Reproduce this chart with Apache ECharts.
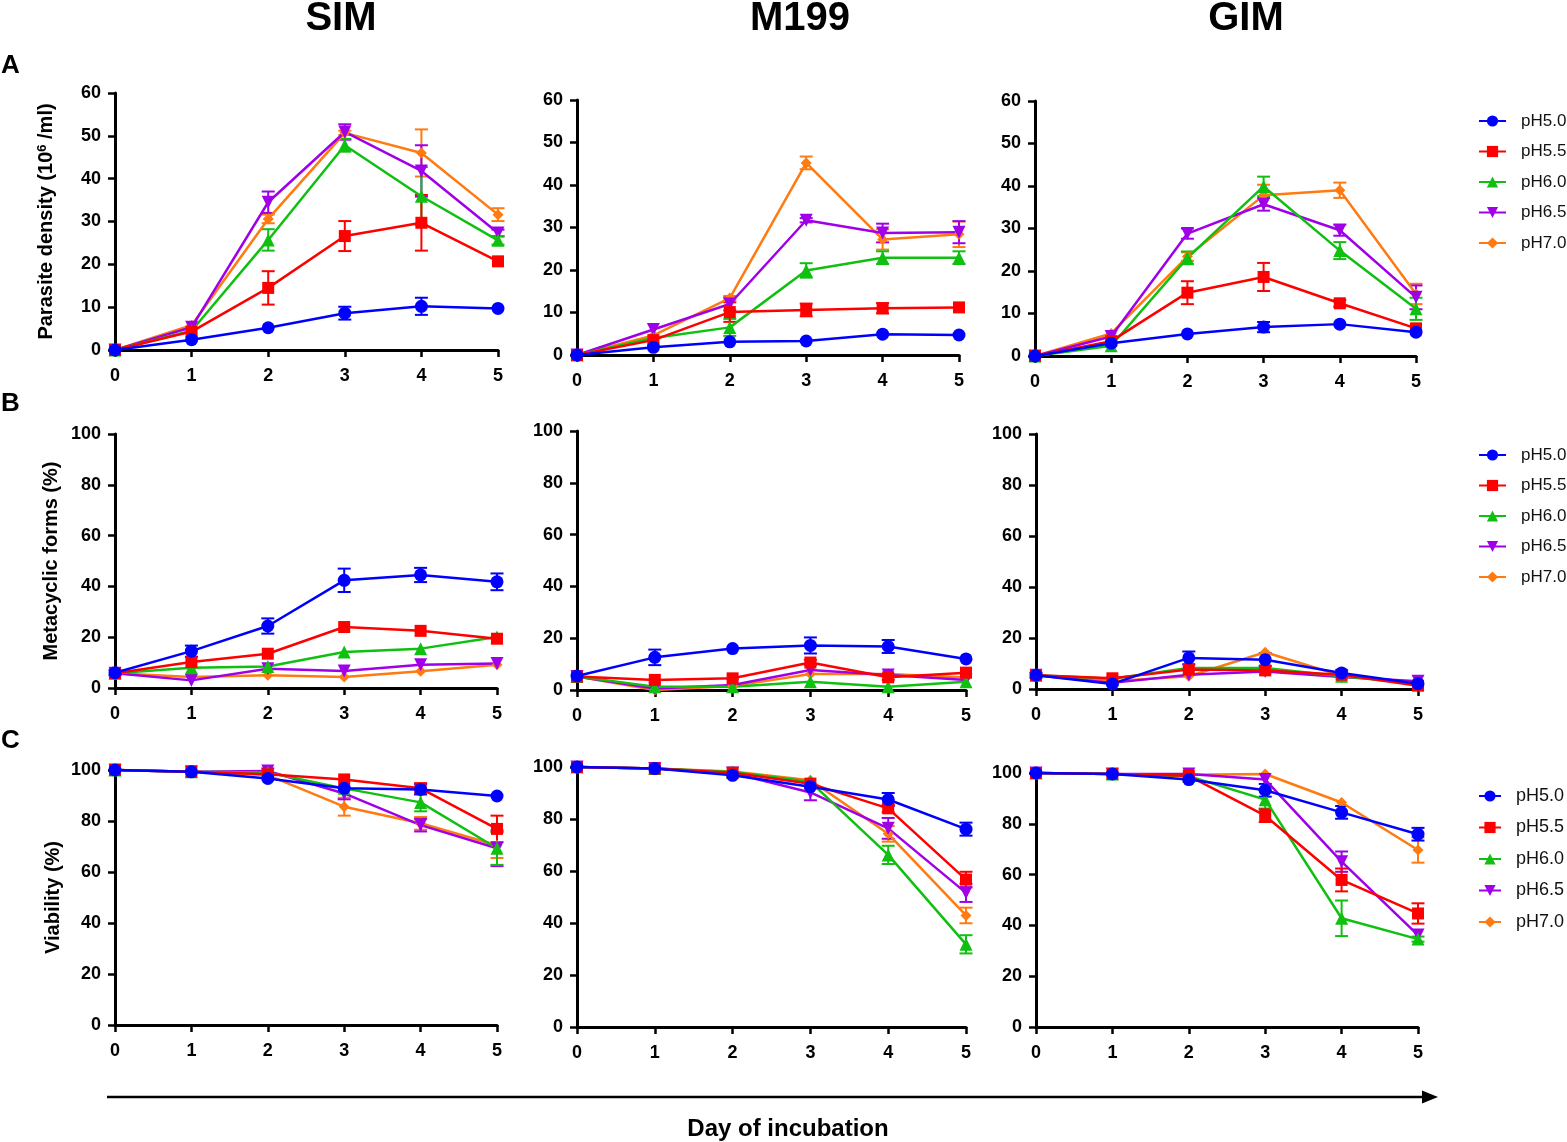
<!DOCTYPE html>
<html><head><meta charset="utf-8">
<script src="https://cdn.jsdelivr.net/npm/echarts@6/dist/echarts.min.js"></script>
<style>html,body{margin:0;padding:0;background:#fff}#c{width:1567px;height:1142px}</style>
</head><body><div id="c"></div>
<script>
// ---------- DATA ----------
const days = [0, 1, 2, 3, 4, 5];
const phLevels = ['pH5.0', 'pH5.5', 'pH6.0', 'pH6.5', 'pH7.0'];
const mediaNames = ['SIM', 'M199', 'GIM'];
const rowLetters = ['A', 'B', 'C'];
const densityTickMax = 60, densityTickStep = 10;
const percentTickMax = 100, percentTickStep = 20;

// Parasite density (10^6/ml), rows = pH5.0, pH5.5, pH6.0, pH6.5, pH7.0
const densitySIM = [
  [0, 2.4, 5.2, 8.6, 10.2, 9.7],
  [0, 4.3, 14.5, 26.6, 29.7, 20.7],
  [0, 4.5, 25.7, 47.8, 35.9, 25.6],
  [0, 5.3, 34.5, 50.9, 41.8, 27.3],
  [0, 5.8, 30.6, 50.7, 46.0, 31.6]
];
const densitySIM_sd = [
  [0, 0, 0, 1.5, 2.0, 0],
  [0, 0, 3.9, 3.5, 6.5, 0],
  [0, 0, 2.5, 1.5, 6.8, 1.0],
  [0, 0, 2.5, 1.8, 6.0, 0.8],
  [0, 0, 1.0, 0.5, 5.5, 1.5]
];
const densityM199 = [
  [0, 1.8, 3.1, 3.3, 4.9, 4.7],
  [0, 3.5, 10.1, 10.6, 11.0, 11.2],
  [0, 4.0, 6.5, 19.9, 22.9, 22.9],
  [0, 6.0, 12.0, 31.7, 28.7, 28.9],
  [0, 4.6, 13.4, 45.2, 27.2, 28.4]
];
const densityM199_sd = [
  [0, 0, 0, 0, 0, 0],
  [0, 0, 2.3, 1.5, 1.2, 0],
  [0, 0, 2.0, 1.7, 1.5, 1.5],
  [0, 0, 1.5, 0.5, 2.2, 2.6],
  [0, 0, 0.5, 1.5, 2.4, 3.0]
];
const densityGIM = [
  [0, 3.0, 5.2, 6.8, 7.5, 5.6],
  [0, 3.5, 14.9, 18.6, 12.4, 6.5],
  [0, 2.4, 23.1, 39.9, 24.8, 11.1],
  [0, 4.6, 28.8, 35.7, 29.6, 13.8],
  [0, 5.3, 23.4, 37.8, 39.0, 14.6]
];
const densityGIM_sd = [
  [0, 0, 0, 1.2, 0, 0],
  [0, 0, 2.7, 3.3, 0.8, 0],
  [0, 0, 1.5, 2.3, 2.0, 2.6],
  [0, 0, 1.2, 1.5, 1.3, 2.8],
  [0, 0, 1.0, 2.5, 1.8, 2.4]
];

// Metacyclic forms (%)
const metacyclicSIM = [
  [6.0, 14.5, 24.4, 42.4, 44.5, 41.8],
  [5.8, 10.2, 13.5, 24.0, 22.5, 19.4],
  [5.8, 8.0, 8.5, 14.2, 15.5, 20.1],
  [5.8, 3.0, 7.6, 6.7, 9.2, 9.6],
  [5.8, 4.3, 5.0, 4.3, 6.6, 9.2]
];
const metacyclicSIM_sd = [
  [1.0, 2.2, 3.0, 4.6, 2.8, 3.3],
  [0, 0, 0, 0, 0, 0],
  [0, 0, 0, 0, 0, 0],
  [0, 0, 0, 0, 0, 0],
  [0, 0, 0, 0, 0, 0]
];
const metacyclicM199 = [
  [5.4, 12.6, 16.0, 17.2, 16.8, 12.0],
  [5.2, 3.9, 4.5, 10.6, 4.9, 6.7],
  [5.2, 1.3, 1.3, 3.2, 1.3, 3.2],
  [5.2, 0.6, 1.9, 7.7, 5.8, 3.9],
  [5.2, 0.0, 1.5, 6.2, 6.2, 4.8]
];
const metacyclicM199_sd = [
  [0, 3.0, 0, 3.1, 2.5, 0],
  [0, 0, 0, 1.0, 1.0, 0],
  [0, 0, 0, 0, 0, 0],
  [0, 0, 0, 0, 0, 0],
  [0, 0, 0, 0, 0, 0]
];
const metacyclicGIM = [
  [5.4, 2.0, 12.2, 11.5, 6.3, 2.1],
  [5.4, 4.2, 7.6, 7.3, 5.6, 1.3],
  [5.4, 4.0, 8.2, 8.2, 5.0, 2.1],
  [5.4, 2.4, 5.6, 6.9, 4.7, 3.0],
  [5.4, 3.0, 5.0, 14.4, 5.2, 2.4]
];
const metacyclicGIM_sd = [
  [1.0, 0, 2.5, 2.5, 1.0, 0],
  [0, 0, 0, 0, 0, 0],
  [0, 0, 0, 0, 0, 0],
  [0, 0, 0, 0, 0, 0],
  [0, 0, 0, 0, 0, 0]
];

// Viability (%)
const viabilitySIM = [
  [100, 99.3, 96.7, 92.8, 92.4, 89.8],
  [100, 99.3, 98.3, 96.3, 92.8, 76.9],
  [100, 99.3, 99.0, 92.8, 87.3, 69.3],
  [100, 99.3, 99.6, 90.8, 78.4, 69.3],
  [100, 99.3, 98.0, 85.6, 79.1, 70.5]
];
const viabilitySIM_sd = [
  [0, 0, 0, 0, 2.0, 0],
  [0, 0, 0, 0, 2.0, 5.2],
  [0, 0, 0, 0, 3.5, 6.5],
  [0, 0, 1.0, 2.3, 2.5, 7.0],
  [0, 0, 0, 3.5, 2.5, 5.0]
];
const viabilityM199 = [
  [100, 99.4, 96.8, 92.4, 87.5, 76.1],
  [100, 99.4, 97.8, 93.6, 84.1, 56.7],
  [100, 99.4, 98.1, 94.3, 66.2, 31.8],
  [100, 99.4, 97.7, 90.2, 76.4, 51.6],
  [100, 99.4, 98.3, 94.9, 74.3, 42.9]
];
const viabilityM199_sd = [
  [0, 0, 0, 0, 2.5, 2.5],
  [0, 0, 0, 0, 1.5, 3.0],
  [0, 0, 0, 0, 3.5, 3.5],
  [0, 0, 0, 3.0, 4.0, 3.5],
  [0, 0, 0, 0, 3.0, 3.0]
];
const viabilityGIM = [
  [100, 99.6, 97.4, 93.2, 84.5, 75.9],
  [100, 99.6, 98.9, 83.2, 57.9, 44.7],
  [100, 99.6, 98.7, 89.5, 42.8, 34.6],
  [100, 99.6, 99.6, 97.4, 65.1, 36.2],
  [100, 99.6, 99.3, 99.6, 88.4, 69.7]
];
const viabilityGIM_sd = [
  [0, 0, 0, 2.5, 2.5, 2.5],
  [0, 0, 0, 2.5, 4.5, 4.0],
  [0, 0, 0, 3.5, 7.0, 1.0],
  [0, 0, 0, 0, 4.0, 0],
  [0, 0, 0, 0, 0, 5.0]
];

// ---------- STYLE / LAYOUT ----------
const colors = ['#0000FF', '#FF0000', '#10C010', '#A000E8', '#FF7A10'];
const symbols = ['circle', 'rect', 'triangle', 'triangle', 'diamond'];
const symbolRot = [0, 0, 0, 180, 0];
const symbolSizes = [13, 12, 13, 13, 11];
const FONT = '"Liberation Sans", Arial, Helvetica, sans-serif';

// grid rectangles [left, top, width, height] per row/col
const gridRects = [
  [[115, 93, 383, 257], [577, 100, 382, 255], [1035, 101, 381, 255]],
  [[115, 434, 382, 254], [577, 431, 389, 259], [1036, 434, 382, 255]],
  [[115, 770, 382, 255], [577, 767, 389, 260], [1036, 773, 382, 254]]
];
const panelMeans = [
  [densitySIM, densityM199, densityGIM],
  [metacyclicSIM, metacyclicM199, metacyclicGIM],
  [viabilitySIM, viabilityM199, viabilityGIM]
];
const panelSD = [
  [densitySIM_sd, densityM199_sd, densityGIM_sd],
  [metacyclicSIM_sd, metacyclicM199_sd, metacyclicGIM_sd],
  [viabilitySIM_sd, viabilityM199_sd, viabilityGIM_sd]
];
const rowYMax = [densityTickMax, percentTickMax, percentTickMax];
const rowYStep = [densityTickStep, percentTickStep, percentTickStep];
const rowYName = ['Parasite density (10{sup|6} /ml)', 'Metacyclic forms (%)', 'Viability (%)'];
const rowNameGap = [58, 54, 52];
const legendTops = [112.5, 446.5, 787];
const legendLeft = [1478, 1478, 1478];
const legendLineW = [27, 27, 22];
const legendFont = [17, 17, 18];

function renderErr(params, api) {
  const x = api.value(0), lo = api.value(1), hi = api.value(2);
  const pLo = api.coord([x, lo]), pHi = api.coord([x, hi]);
  const w = 6.5;
  const style = { stroke: api.visual('color'), lineWidth: 2, fill: null };
  return {
    type: 'group', children: [
      { type: 'line', shape: { x1: pLo[0], y1: pLo[1], x2: pHi[0], y2: pHi[1] }, style: style },
      { type: 'line', shape: { x1: pLo[0] - w, y1: pLo[1], x2: pLo[0] + w, y2: pLo[1] }, style: style },
      { type: 'line', shape: { x1: pHi[0] - w, y1: pHi[1], x2: pHi[0] + w, y2: pHi[1] }, style: style }
    ]
  };
}

const grids = [], xAxes = [], yAxes = [], series = [], legends = [];
for (let r = 0; r < 3; r++) {
  for (let c = 0; c < 3; c++) {
    const idx = r * 3 + c;
    const g = gridRects[r][c];
    grids.push({ left: g[0], top: g[1], width: g[2], height: g[3], containLabel: false });
    xAxes.push({
      type: 'value', gridIndex: idx, min: 0, max: 5, interval: 1,
      axisLine: { onZero: false, lineStyle: { color: '#000', width: 3 } },
      axisTick: { show: true, inside: false, length: 7, lineStyle: { color: '#000', width: 2.5 } },
      axisLabel: { color: '#000', fontFamily: FONT, fontWeight: 'bold', fontSize: 18, margin: 17 },
      splitLine: { show: false }
    });
    const y = {
      type: 'value', gridIndex: idx, min: 0, max: rowYMax[r], interval: rowYStep[r],
      axisLine: { show: true, lineStyle: { color: '#000', width: 3 } },
      axisTick: { show: true, inside: false, length: 7, lineStyle: { color: '#000', width: 2.5 } },
      axisLabel: { color: '#000', fontFamily: FONT, fontWeight: 'bold', fontSize: 18, margin: 14 },
      splitLine: { show: false }
    };
    if (c === 0) {
      Object.assign(y, {
        name: rowYName[r], nameLocation: 'middle', nameRotate: 90, nameGap: rowNameGap[r],
        nameTextStyle: {
          color: '#000', fontFamily: FONT, fontWeight: 'bold', fontSize: 20,
          rich: { sup: { fontFamily: FONT, fontWeight: 'bold', fontSize: 13, color: '#000', verticalAlign: 'top', padding: [0, 0, 8, 0] } }
        }
      });
    }
    yAxes.push(y);
    const means = panelMeans[r][c], sds = panelSD[r][c];
    for (let i = phLevels.length - 1; i >= 0; i--) {
      const errData = [];
      days.forEach((d, k) => { if (sds[i][k] > 0) errData.push([d, means[i][k] - sds[i][k], means[i][k] + sds[i][k]]); });
      series.push({
        type: 'custom', name: phLevels[i] + ' SD', xAxisIndex: idx, yAxisIndex: idx,
        renderItem: renderErr, data: errData, clip: false, z: 2,
        itemStyle: { color: colors[i] }, encode: { x: 0, y: [1, 2] }, silent: true
      });
      series.push({
        type: 'line', name: phLevels[i], xAxisIndex: idx, yAxisIndex: idx,
        data: days.map((d, k) => [d, means[i][k]]),
        symbol: symbols[i], symbolRotate: symbolRot[i], symbolSize: symbolSizes[i], showAllSymbol: true,
        itemStyle: { color: colors[i] }, lineStyle: { color: colors[i], width: 2.5 },
        clip: false, z: 3, animation: false
      });
    }
  }
  legends.push({
    orient: 'vertical', left: legendLeft[r], top: legendTops[r], data: phLevels, padding: 0,
    itemWidth: legendLineW[r], itemHeight: 14, itemGap: 13.5, selectedMode: false,
    textStyle: { fontFamily: FONT, fontSize: legendFont[r], color: '#111', lineHeight: 17, padding: [0, 0, 0, 10] }
  });
}

const graphics = [];
const titleX = [341, 800, 1246];
mediaNames.forEach((m, i) => graphics.push({
  type: 'text', x: titleX[i], y: 19,
  style: { text: m, font: 'bold 40px ' + FONT, fill: '#000', textAlign: 'center', textVerticalAlign: 'middle' }
}));
const letterY = [66, 404, 741];
rowLetters.forEach((L, i) => graphics.push({
  type: 'text', x: 1, y: letterY[i],
  style: { text: L, font: 'bold 26px ' + FONT, fill: '#000', textAlign: 'left', textVerticalAlign: 'middle' }
}));
graphics.push({ type: 'line', shape: { x1: 107, y1: 1097, x2: 1426, y2: 1097 }, style: { stroke: '#000', lineWidth: 2.5 } });
graphics.push({ type: 'polygon', shape: { points: [[1438, 1097], [1422, 1090.5], [1422, 1103.5]] }, style: { fill: '#000' } });
graphics.push({
  type: 'text', x: 788, y: 1129,
  style: { text: 'Day of incubation', font: 'bold 24px ' + FONT, fill: '#000', textAlign: 'center', textVerticalAlign: 'middle' }
});

const chart = echarts.init(document.getElementById('c'), null, { renderer: 'canvas' });
chart.setOption({
  backgroundColor: '#fff',
  animation: false,
  grid: grids, xAxis: xAxes, yAxis: yAxes, series: series, legend: legends,
  graphic: graphics
});
</script></body></html>
